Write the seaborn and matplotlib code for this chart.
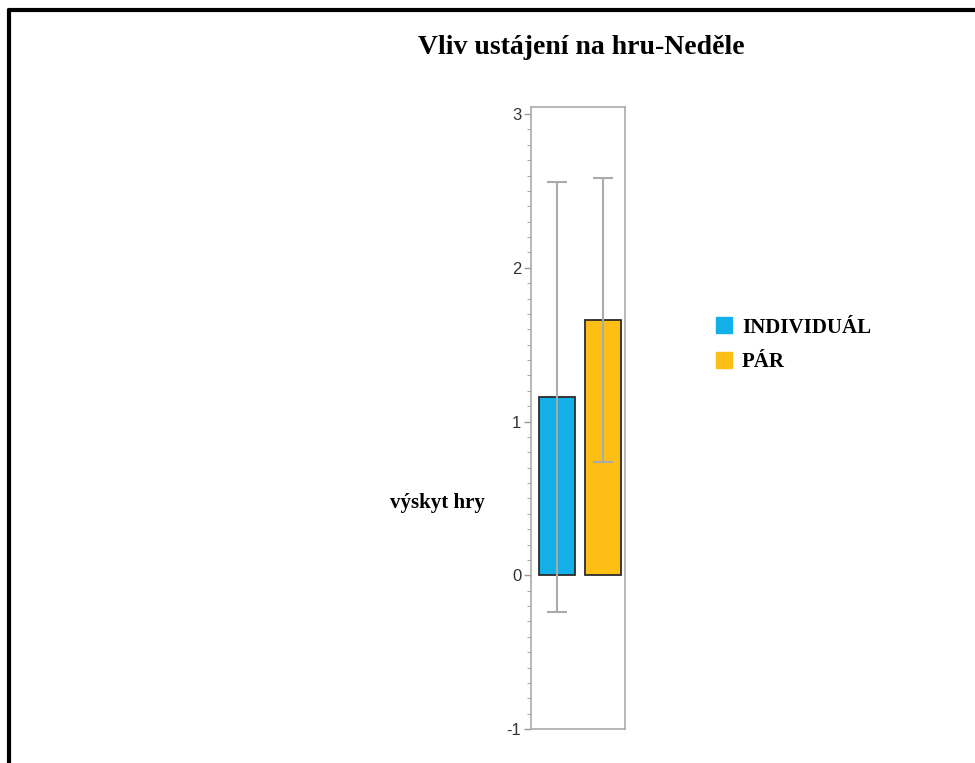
import numpy as np
import pandas as pd
import seaborn as sns
from matplotlib import pyplot as plt
from matplotlib.lines import Line2D
from matplotlib.ticker import MultipleLocator

# data
skupiny = ['INDIVIDUÁL', 'PÁR']
prumer = [1.16, 1.66]
chyba = [1.40, 0.925]
barvy = ['#12AFE8', '#FDBF15']

df = pd.DataFrame({'skupina': skupiny, 'vyskyt': prumer})

sns.set_style('white')
plt.rcParams['font.family'] = ['Liberation Sans', 'DejaVu Sans']
plt.rcParams['axes.unicode_minus'] = False

fig = plt.figure(figsize=(9.75, 7.63), dpi=100)
ax = fig.add_axes([531 / 975, 34 / 763, 94 / 975, 622 / 763])

sns.barplot(data=df, x='skupina', y='vyskyt', hue='skupina', palette=barvy, saturation=1,
            width=0.8, edgecolor='#2b2b2b', linewidth=1.3, legend=False, ax=ax)
ax.errorbar(np.arange(len(skupiny)), prumer, yerr=chyba, fmt='none',
            ecolor='#aaaaaa', elinewidth=1.5, capsize=7.5, capthick=1.5, zorder=5)

ax.set_xlim(-0.565, 1.478)
ax.set_ylim(-1, 3.046)
ax.set_xlabel('')
ax.set_ylabel('')
ax.set_xticks([])
ax.yaxis.set_major_locator(MultipleLocator(1))
ax.yaxis.set_minor_locator(MultipleLocator(0.1))
ax.tick_params(axis='y', which='major', left=True, length=5, width=1, color='#999999',
               labelsize=12, labelcolor='#333333', pad=2)
ax.tick_params(axis='y', which='minor', left=True, length=3, width=0.8, color='#aaaaaa')
for s in ax.spines.values():
    s.set_color('#aaaaaa')
    s.set_linewidth(1.2)

fig.text(581 / 975, 1 - 47 / 763, 'Vliv ustájení na hru-Neděle', ha='center', va='center',
         family='Liberation Serif', fontweight='bold', fontsize=20, color='black')
fig.text(437 / 975, 1 - 503 / 763, 'výskyt hry', ha='center', va='center',
         family='Liberation Serif', fontweight='bold', fontsize=15, color='black')

handles = [Line2D([], [], marker='s', linestyle='none', markersize=12,
                  markerfacecolor=c, markeredgecolor=c) for c in barvy]
leg = fig.legend(handles, skupiny, loc='upper left', bbox_to_anchor=(689 / 975, 1 - 299 / 763),
                 frameon=False, handletextpad=0.05, labelspacing=0.68, handlelength=1.6,
                 prop={'family': 'Liberation Serif', 'weight': 'bold', 'size': 15})
for t in leg.get_texts():
    t.set_color('black')

# black frame top and left, as in the cropped original
fig.add_artist(Line2D([9 / 975, 1], [1 - 10 / 763, 1 - 10 / 763], color='black', lw=3))
fig.add_artist(Line2D([9 / 975, 9 / 975], [0, 1 - 10 / 763], color='black', lw=3))

fig.savefig('out.png', dpi=100, facecolor='white')
